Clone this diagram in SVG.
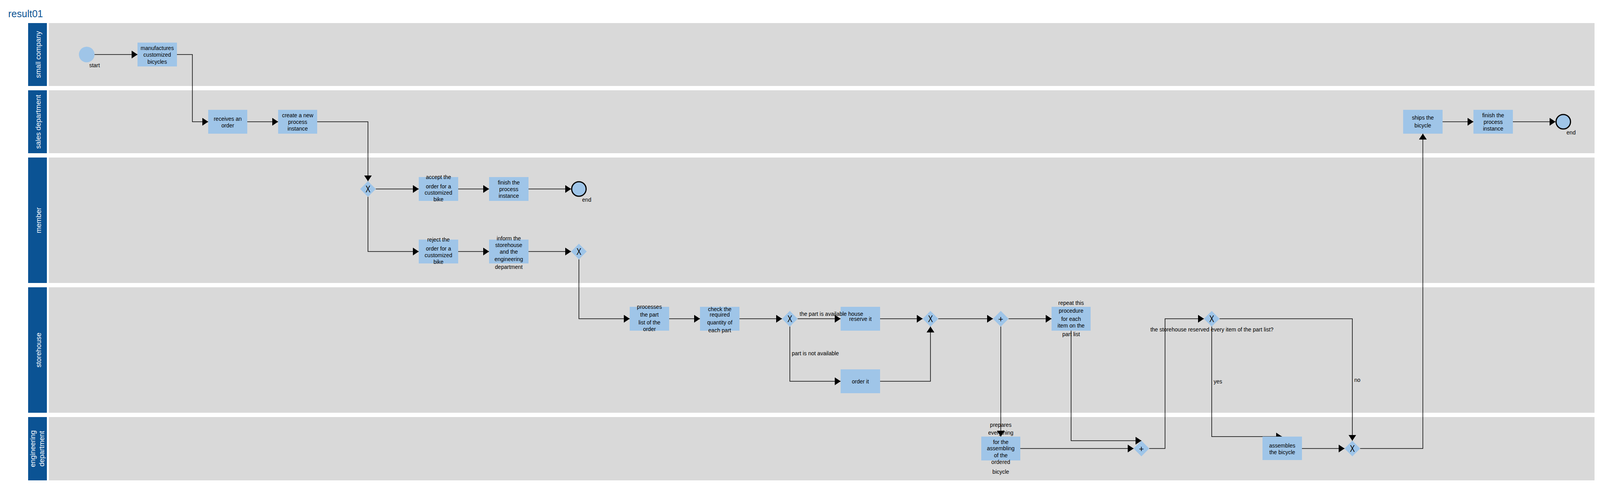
<svg xmlns="http://www.w3.org/2000/svg" width="4099" height="1269" viewBox="0 0 4099 1269">
<style>
.lane{fill:#d9d9d9}
.hdr{fill:#0b5394}
.h{fill:#ffffff;font-family:"Liberation Sans",Arial,sans-serif;font-size:18px;text-anchor:middle}
.task{fill:#9fc5e8}
.gw{fill:#9fc5e8}
.t{fill:#000;font-family:"Liberation Sans",Arial,sans-serif;font-size:14px;text-anchor:middle}
.lbl{fill:#000;font-family:"Liberation Sans",Arial,sans-serif;font-size:14px}
.gx{fill:#000;font-family:"Liberation Sans",Arial,sans-serif;font-size:23px;text-anchor:middle}
.gp{fill:#000;font-family:"Liberation Sans",Arial,sans-serif;font-size:22px;text-anchor:middle}
.start{fill:#9fc5e8}
.end{fill:#9fc5e8;stroke:#000;stroke-width:3}
.c{fill:none;stroke:#000;stroke-width:1.5;marker-end:url(#arr)}
</style>
<defs>
<marker id="arr" markerUnits="userSpaceOnUse" viewBox="0 0 15 20" markerWidth="15" markerHeight="20" refX="15" refY="10" orient="auto"><path d="M0,0 L15,10 L0,20 z" fill="#000"/></marker>
</defs>
<rect width="4099" height="1269" fill="#ffffff"/>
<text x="21" y="44" font-family="Liberation Sans, Arial, sans-serif" font-size="25" fill="#0b5394">result01</text>

<g id="lanes">
<g id="lane-small-company">
<rect class="hdr" x="72" y="59" width="48" height="161"/>
<rect class="lane" x="125" y="59" width="3957" height="161"/>
<text class="h" transform="translate(104,139.5) rotate(-90)">small company</text>
</g>
<g id="lane-sales-department">
<rect class="hdr" x="72" y="231" width="48" height="161"/>
<rect class="lane" x="125" y="231" width="3957" height="161"/>
<text class="h" transform="translate(104,311.5) rotate(-90)">sales department</text>
</g>
<g id="lane-member">
<rect class="hdr" x="72" y="403" width="48" height="321"/>
<rect class="lane" x="125" y="403" width="3957" height="321"/>
<text class="h" transform="translate(105,563.5) rotate(-90)">member</text>
</g>
<g id="lane-storehouse">
<rect class="hdr" x="72" y="735" width="48" height="321"/>
<rect class="lane" x="125" y="735" width="3957" height="321"/>
<text class="h" transform="translate(105,895.5) rotate(-90)">storehouse</text>
</g>
<g id="lane-engineering-department">
<rect class="hdr" x="72" y="1067" width="48" height="162"/>
<rect class="lane" x="125" y="1067" width="3957" height="162"/>
<text class="h" transform="translate(90,1148) rotate(-90)">engineering</text>
<text class="h" transform="translate(113,1148) rotate(-90)">department</text>
</g>
</g>

<g id="start">
<circle class="start" cx="222" cy="139.5" r="20"/>
<text class="t" x="242" y="172">start</text>
</g>
<g id="manufactures">
<rect class="task" x="352" y="109" width="101" height="61"/>
<text class="t"><tspan x="402.5" y="128">manufactures</tspan><tspan x="402.5" y="145">customized</tspan><tspan x="402.5" y="163">bicycles</tspan></text>
</g>
<g id="receives-order">
<rect class="task" x="533" y="281" width="100" height="61"/>
<text class="t"><tspan x="583" y="309">receives an</tspan><tspan x="583" y="326">order</tspan></text>
</g>
<g id="create-instance">
<rect class="task" x="712" y="281" width="100" height="61"/>
<text class="t"><tspan x="762" y="300">create a new</tspan><tspan x="762" y="317">process</tspan><tspan x="762" y="334">instance</tspan></text>
</g>
<g id="gw-accept-reject">
<polygon class="gw" points="942,463.5 962,483.5 942,503.5 922,483.5"/>
<text class="gx" transform="translate(942,491.5) scale(0.82,1)">X</text>
</g>
<g id="accept">
<rect class="task" x="1072" y="453" width="101" height="61"/>
<text class="t"><tspan x="1122.5" y="458">accept the</tspan><tspan x="1122.5" y="482">order for a</tspan><tspan x="1122.5" y="498">customized</tspan><tspan x="1122.5" y="515">bike</tspan></text>
</g>
<g id="finish-member">
<rect class="task" x="1252" y="453" width="101" height="61"/>
<text class="t"><tspan x="1302.5" y="472">finish the</tspan><tspan x="1302.5" y="489">process</tspan><tspan x="1302.5" y="506">instance</tspan></text>
</g>
<g id="end-member">
<circle class="end" cx="1482" cy="483.5" r="18.5"/>
<text class="t" x="1502" y="516">end</text>
</g>
<g id="reject">
<rect class="task" x="1072" y="613" width="101" height="61"/>
<text class="t"><tspan x="1122.5" y="618">reject the</tspan><tspan x="1122.5" y="641">order for a</tspan><tspan x="1122.5" y="658">customized</tspan><tspan x="1122.5" y="675">bike</tspan></text>
</g>
<g id="inform">
<rect class="task" x="1252" y="613" width="101" height="61"/>
<text class="t"><tspan x="1302.5" y="615">inform the</tspan><tspan x="1302.5" y="632">storehouse</tspan><tspan x="1302.5" y="649">and the</tspan><tspan x="1302.5" y="668">engineering</tspan><tspan x="1302.5" y="688">department</tspan></text>
</g>
<g id="gw-member-out">
<polygon class="gw" points="1482,623.5 1502,643.5 1482,663.5 1462,643.5"/>
<text class="gx" transform="translate(1482,651.5) scale(0.82,1)">X</text>
</g>
<g id="processes">
<rect class="task" x="1612" y="785" width="101" height="61"/>
<text class="t"><tspan x="1662.5" y="790">processes</tspan><tspan x="1662.5" y="810">the part</tspan><tspan x="1662.5" y="830">list of the</tspan><tspan x="1662.5" y="847">order</tspan></text>
</g>
<g id="check">
<rect class="task" x="1792" y="785" width="101" height="61"/>
<text class="t"><tspan x="1842.5" y="796">check the</tspan><tspan x="1842.5" y="810">required</tspan><tspan x="1842.5" y="830">quantity of</tspan><tspan x="1842.5" y="850">each part</tspan></text>
</g>
<g id="gw-available">
<polygon class="gw" points="2022,795.5 2042,815.5 2022,835.5 2002,815.5"/>
<text class="gx" transform="translate(2022,823.5) scale(0.82,1)">X</text>
</g>
<g id="reserve">
<rect class="task" x="2152" y="785" width="101" height="61"/>
<text class="t" x="2202.5" y="821">reserve it</text>
</g>
<g id="order-it">
<rect class="task" x="2152" y="945" width="101" height="61"/>
<text class="t" x="2202.5" y="981">order it</text>
</g>
<g id="gw-merge">
<polygon class="gw" points="2382,795.5 2402,815.5 2382,835.5 2362,815.5"/>
<text class="gx" transform="translate(2382,823.5) scale(0.82,1)">X</text>
</g>
<g id="gw-split">
<polygon class="gw" points="2562,795.5 2582,815.5 2562,835.5 2542,815.5"/>
<text class="gp" x="2562" y="823.5">+</text>
</g>
<g id="repeat">
<rect class="task" x="2692" y="785" width="100" height="61"/>
<text class="t"><tspan x="2742" y="780">repeat this</tspan><tspan x="2742" y="800">procedure</tspan><tspan x="2742" y="821">for each</tspan><tspan x="2742" y="838">item on the</tspan><tspan x="2742" y="860">part list</tspan></text>
</g>
<g id="prepares">
<rect class="task" x="2512" y="1117" width="100" height="61"/>
<text class="t"><tspan x="2562" y="1092">prepares</tspan><tspan x="2562" y="1112">everything</tspan><tspan x="2562" y="1136">for the</tspan><tspan x="2562" y="1152">assembling</tspan><tspan x="2562" y="1170">of the</tspan><tspan x="2562" y="1187">ordered</tspan><tspan x="2562" y="1212">bicycle</tspan></text>
</g>
<g id="gw-join">
<polygon class="gw" points="2922,1127.5 2942,1147.5 2922,1167.5 2902,1147.5"/>
<text class="gp" x="2922" y="1155.5">+</text>
</g>
<g id="gw-reserved">
<polygon class="gw" points="3102,795.5 3122,815.5 3102,835.5 3082,815.5"/>
<text class="gx" transform="translate(3102,823.5) scale(0.82,1)">X</text>
<text class="t" x="3102.5" y="848">the storehouse reserved every item of the part list?</text>
</g>
<g id="gw-final">
<polygon class="gw" points="3462,1127.5 3482,1147.5 3462,1167.5 3442,1147.5"/>
<text class="gx" transform="translate(3462,1155.5) scale(0.82,1)">X</text>
</g>
<g id="ships">
<rect class="task" x="3592" y="281" width="101" height="61"/>
<text class="t"><tspan x="3642.5" y="306">ships the</tspan><tspan x="3642.5" y="326">bicycle</tspan></text>
</g>
<g id="finish-sales">
<rect class="task" x="3772" y="281" width="101" height="61"/>
<text class="t"><tspan x="3822.5" y="300">finish the</tspan><tspan x="3822.5" y="317">process</tspan><tspan x="3822.5" y="334">instance</tspan></text>
</g>
<g id="end-sales">
<circle class="end" cx="4002" cy="311.5" r="18.5"/>
<text class="t" x="4022" y="344">end</text>
</g>

<g id="connectors">
<path class="c" d="M242,139.5 H352"/>
<path class="c" d="M453,139.5 H492.5 V311.5 H533"/>
<path class="c" d="M633,311.5 H712"/>
<path class="c" d="M812,311.5 H942 V463.5"/>
<path class="c" d="M962,483.5 H1072"/>
<path class="c" d="M1173,483.5 H1252"/>
<path class="c" d="M1353,483.5 H1462"/>
<path class="c" d="M942,503.5 V643.5 H1072"/>
<path class="c" d="M1173,643.5 H1252"/>
<path class="c" d="M1353,643.5 H1462"/>
<path class="c" d="M1482,663.5 V815.5 H1612"/>
<path class="c" d="M1713,815.5 H1792"/>
<path class="c" d="M1893,815.5 H2002"/>
<path class="c" d="M2042,815.5 H2152"/>
<text class="lbl" x="2047" y="808">the part is available house</text>
<path class="c" d="M2022,835.5 V975.5 H2152"/>
<text class="lbl" x="2027" y="909">part is not available</text>
<path class="c" d="M2253,815.5 H2362"/>
<path class="c" d="M2253,975.5 H2382 V835.5"/>
<path class="c" d="M2402,815.5 H2542"/>
<path class="c" d="M2582,815.5 H2692"/>
<path class="c" d="M2562,835.5 V1117"/>
<path class="c" d="M2742,846 V1127.5 H2922"/>
<path class="c" d="M2612,1147.5 H2902"/>
<path class="c" d="M2942,1147.5 H2982.5 V815.5 H3082"/>
<path class="c" d="M3122,815.5 H3462 V1127.5"/>
<text class="lbl" x="3467" y="977">no</text>
<path class="c" d="M3102,835.5 V1117 H3282"/>
<text class="lbl" x="3107" y="981">yes</text>
<path class="c" d="M3333,1147.5 H3442"/>
<path class="c" d="M3482,1147.5 H3642.5 V342"/>
<path class="c" d="M3693,311.5 H3772"/>
<path class="c" d="M3873,311.5 H3982"/>
</g>

<g id="assembles">
<rect class="task" x="3232" y="1117" width="101" height="60"/>
<text class="t"><tspan x="3282.5" y="1145">assembles</tspan><tspan x="3282.5" y="1162">the bicycle</tspan></text>
</g>
</svg>
